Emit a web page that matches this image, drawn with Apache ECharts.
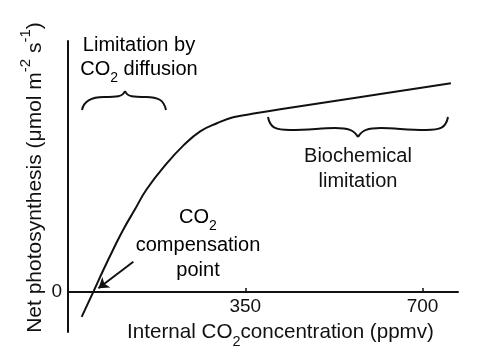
<!DOCTYPE html>
<html>
<head>
<meta charset="utf-8">
<script src="https://cdn.jsdelivr.net/npm/echarts@6/dist/echarts.min.js"></script>
<style>
html, body { margin: 0; padding: 0; background: #fff; }
#main { width: 495px; height: 353px; }
</style>
</head>
<body>
<div id="main"></div>
<script>
// net photosynthesis vs internal CO2
var ciValues = [27, 50, 70, 89, 109, 132, 155, 195, 228, 261, 294, 326, 359, 419, 575, 756];
var netPhoto = [-2.5, 0, 2.2, 4.2, 6.2, 8.2, 10.2, 12.8, 14.6, 16.0, 16.8, 17.4, 17.7, 18.2, 19.4, 20.8];
var xTicks = [350, 700];
var yTicks = [0];
// arrow to the compensation point (data coords)
var arrowFrom = [129, 3.0];
var arrowTo = [60, 0.36];

var font = "'Liberation Sans', Arial, sans-serif";
var ink = '#111';

var dom = document.getElementById('main');
var myChart = echarts.init(dom);

var points = ciValues.map(function (x, i) { return [x, netPhoto[i]]; });

// braces: chains of cubic segments [x1,y1, cp1x,cp1y, cp2x,cp2y, x2,y2]
var braceTop = [
    [82, 110, 84, 100, 92, 97, 104, 97],
    [104, 97, 116, 97, 123, 97, 125, 91],
    [125, 91, 127, 97, 134, 97, 146, 97],
    [146, 97, 158, 97, 164, 100, 166, 110]
];
var braceBottom = [
    [268, 117, 270, 128, 276, 130, 290, 130],
    [290, 130, 310, 130, 320, 128, 335, 128],
    [335, 128, 348, 128, 354, 130, 358, 137],
    [358, 137, 362, 130, 368, 128, 381, 128],
    [381, 128, 396, 128, 406, 130, 426, 130],
    [426, 130, 440, 130, 446, 128, 448, 117]
];
function braceGraphic(segs) {
    return segs.map(function (s) {
        return {
            type: 'bezierCurve',
            silent: true,
            shape: { x1: s[0], y1: s[1], cpx1: s[2], cpy1: s[3], cpx2: s[4], cpy2: s[5], x2: s[6], y2: s[7] },
            style: { stroke: ink, lineWidth: 2, fill: null }
        };
    });
}

// rich styles: normal text, subscript (pushed down), superscript (pushed up)
function richSet(lh, size, small) {
    size = size || 20;
    small = small || 14;
    return {
        n: { fontFamily: font, fontSize: size, color: ink, lineHeight: lh, verticalAlign: 'middle' },
        sub: { fontFamily: font, fontSize: small, color: ink, lineHeight: lh, verticalAlign: 'middle', padding: [19, 0, 0, 0] },
        sup: { fontFamily: font, fontSize: small, color: ink, lineHeight: lh, verticalAlign: 'middle', padding: [0, 0, 19, 0] }
    };
}

var option = {
    animation: false,
    grid: { left: 68, right: 37, top: 41, bottom: 21, outerBoundsMode: 'none', containLabel: false },
    xAxis: {
        type: 'value',
        min: 0,
        max: 770,
        offset: -40,
        name: '{n|Internal CO}{sub|2}{n|concentration (ppmv)}',
        nameLocation: 'middle',
        nameGap: 28,
        nameMoveOverlap: false,
        nameTextStyle: {
            padding: [0, 0, 0, 35],
            rich: richSet(24, 20.6, 14.5)
        },
        axisLine: { onZero: false, lineStyle: { color: ink, width: 2 } },
        axisTick: { show: true, inside: true, length: 4, customValues: xTicks, lineStyle: { color: ink, width: 1.5 } },
        axisLabel: { customValues: xTicks, margin: 5, fontFamily: font, fontSize: 19, color: ink },
        splitLine: { show: false }
    },
    yAxis: {
        type: 'value',
        min: -4,
        max: 25,
        name: '{n|Net photosynthesis (μmol m}{sup|-2}{n| s}{sup|-1}{n|)}',
        nameLocation: 'middle',
        nameGap: 23,
        nameRotate: 90,
        nameMoveOverlap: false,
        nameTextStyle: {
            padding: [0, 0, 0, 18],
            rich: richSet(20, 21, 15)
        },
        axisLine: { lineStyle: { color: ink, width: 2 } },
        axisTick: { show: false },
        axisLabel: { customValues: yTicks, margin: 6, padding: [3, 0, 0, 0], fontFamily: font, fontSize: 19, color: ink },
        splitLine: { show: false }
    },
    series: [{
        type: 'line',
        data: points,
        smooth: 0.45,
        showSymbol: false,
        silent: true,
        lineStyle: { color: ink, width: 2 },
        markLine: {
            silent: true,
            symbol: ['none', 'arrow'],
            symbolSize: 10,
            label: { show: false },
            lineStyle: { color: ink, width: 2, type: 'solid' },
            data: [[{ coord: arrowFrom }, { coord: arrowTo }]]
        }
    }],
    graphic: [
        {
            type: 'text', x: 139, y: 33, silent: true,
            style: {
                text: '{n|Limitation by}\n{n|CO}{sub|2}{n| diffusion}',
                align: 'center', verticalAlign: 'top',
                rich: richSet(24)
            }
        },
        {
            type: 'text', x: 358, y: 144, silent: true,
            style: {
                text: 'Biochemical\nlimitation',
                align: 'center', verticalAlign: 'top', fill: ink,
                fontFamily: font, fontSize: 20, lineHeight: 25
            }
        },
        {
            type: 'text', x: 198, y: 203, silent: true,
            style: {
                text: '{n|CO}{sub|2}\n{n|compensation}\n{last|point}',
                align: 'center', verticalAlign: 'top',
                rich: Object.assign(richSet(28), {
                    last: { fontFamily: font, fontSize: 20, color: ink, lineHeight: 23, verticalAlign: 'middle' }
                })
            }
        }
    ].concat(braceGraphic(braceTop), braceGraphic(braceBottom))
};

myChart.setOption(option);
</script>
</body>
</html>
